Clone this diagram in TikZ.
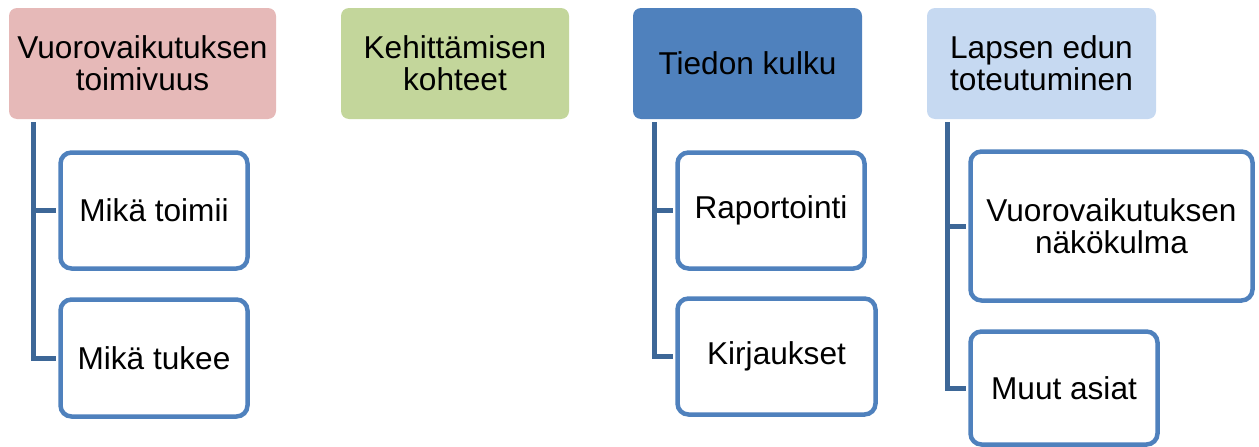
\documentclass[tikz,border=0pt]{standalone}
\usepackage{fontspec}
\setmainfont{Liberation Sans}
\usepackage{tikz}
\usetikzlibrary{positioning, calc}

\definecolor{pinkhead}{HTML}{E6B9B8}
\definecolor{greenhead}{HTML}{C3D69B}
\definecolor{bluehead}{HTML}{4F81BD}
\definecolor{lighthead}{HTML}{C6D9F1}
\definecolor{linkblue}{HTML}{3D6797}

\begin{document}
\begin{tikzpicture}[x=1pt, y=-1pt,
        head/.style={rounded corners=8pt, minimum height=111pt, align=center, inner sep=0pt, font=\fontsize{31.6}{32}\selectfont},
        item/.style={draw=bluehead, line width=4.5pt, fill=white, rounded corners=11pt, align=center, inner sep=0pt, font=\fontsize{31.6}{32}\selectfont},
        link/.style={draw=linkblue, line width=5pt, shorten >=2.25pt}]
        \useasboundingbox (0,0) rectangle (1259,447);

        % top row
        \node[head, fill=pinkhead, minimum width=267pt] (h1) at (142.5,63.5) {Vuorovaikutuksen\\toimivuus};
        \node[head, fill=greenhead, minimum width=228pt] (h2) at (455,63.5) {Kehittämisen\\kohteet};
        \node[head, fill=bluehead, minimum width=229pt] (h3) at (747.5,63.5) {Tiedon kulku};
        \node[head, fill=lighthead, minimum width=229pt] (h4) at (1041.5,63.5) {Lapsen edun\\toteutuminen};

        % sub items
        \node[item, minimum width=187pt, minimum height=116pt] (a1) at (154,210.5) {Mikä toimii};
        \node[item, minimum width=187pt, minimum height=117pt] (a2) at (154,358) {Mikä tukee};
        \node[item, minimum width=187pt, minimum height=116pt] (c1) at (771,210.5) {Raportointi};
        \node[item, minimum width=198pt, minimum height=116pt] (c2) at (776.5,356.5) {Kirjaukset};
        \node[item, minimum width=282pt, minimum height=149pt] (d1) at (1111.5,226) {Vuorovaikutuksen\\näkökulma};
        \node[item, minimum width=187pt, minimum height=113pt] (d2) at (1064,388) {Muut asiat};

        \draw[link] ([xshift=24.5pt, yshift=-3pt]h1.south west) |- (a1.west);
        \draw[link] ([xshift=24.5pt, yshift=-3pt]h1.south west) |- (a2.west);
        \draw[link] ([xshift=21.5pt, yshift=-3pt]h3.south west) |- (c1.west);
        \draw[link] ([xshift=21.5pt, yshift=-3pt]h3.south west) |- (c2.west);
        \draw[link] ([xshift=20.5pt, yshift=-3pt]h4.south west) |- (d1.west);
        \draw[link] ([xshift=20.5pt, yshift=-3pt]h4.south west) |- (d2.west);
\end{tikzpicture}
\end{document}
